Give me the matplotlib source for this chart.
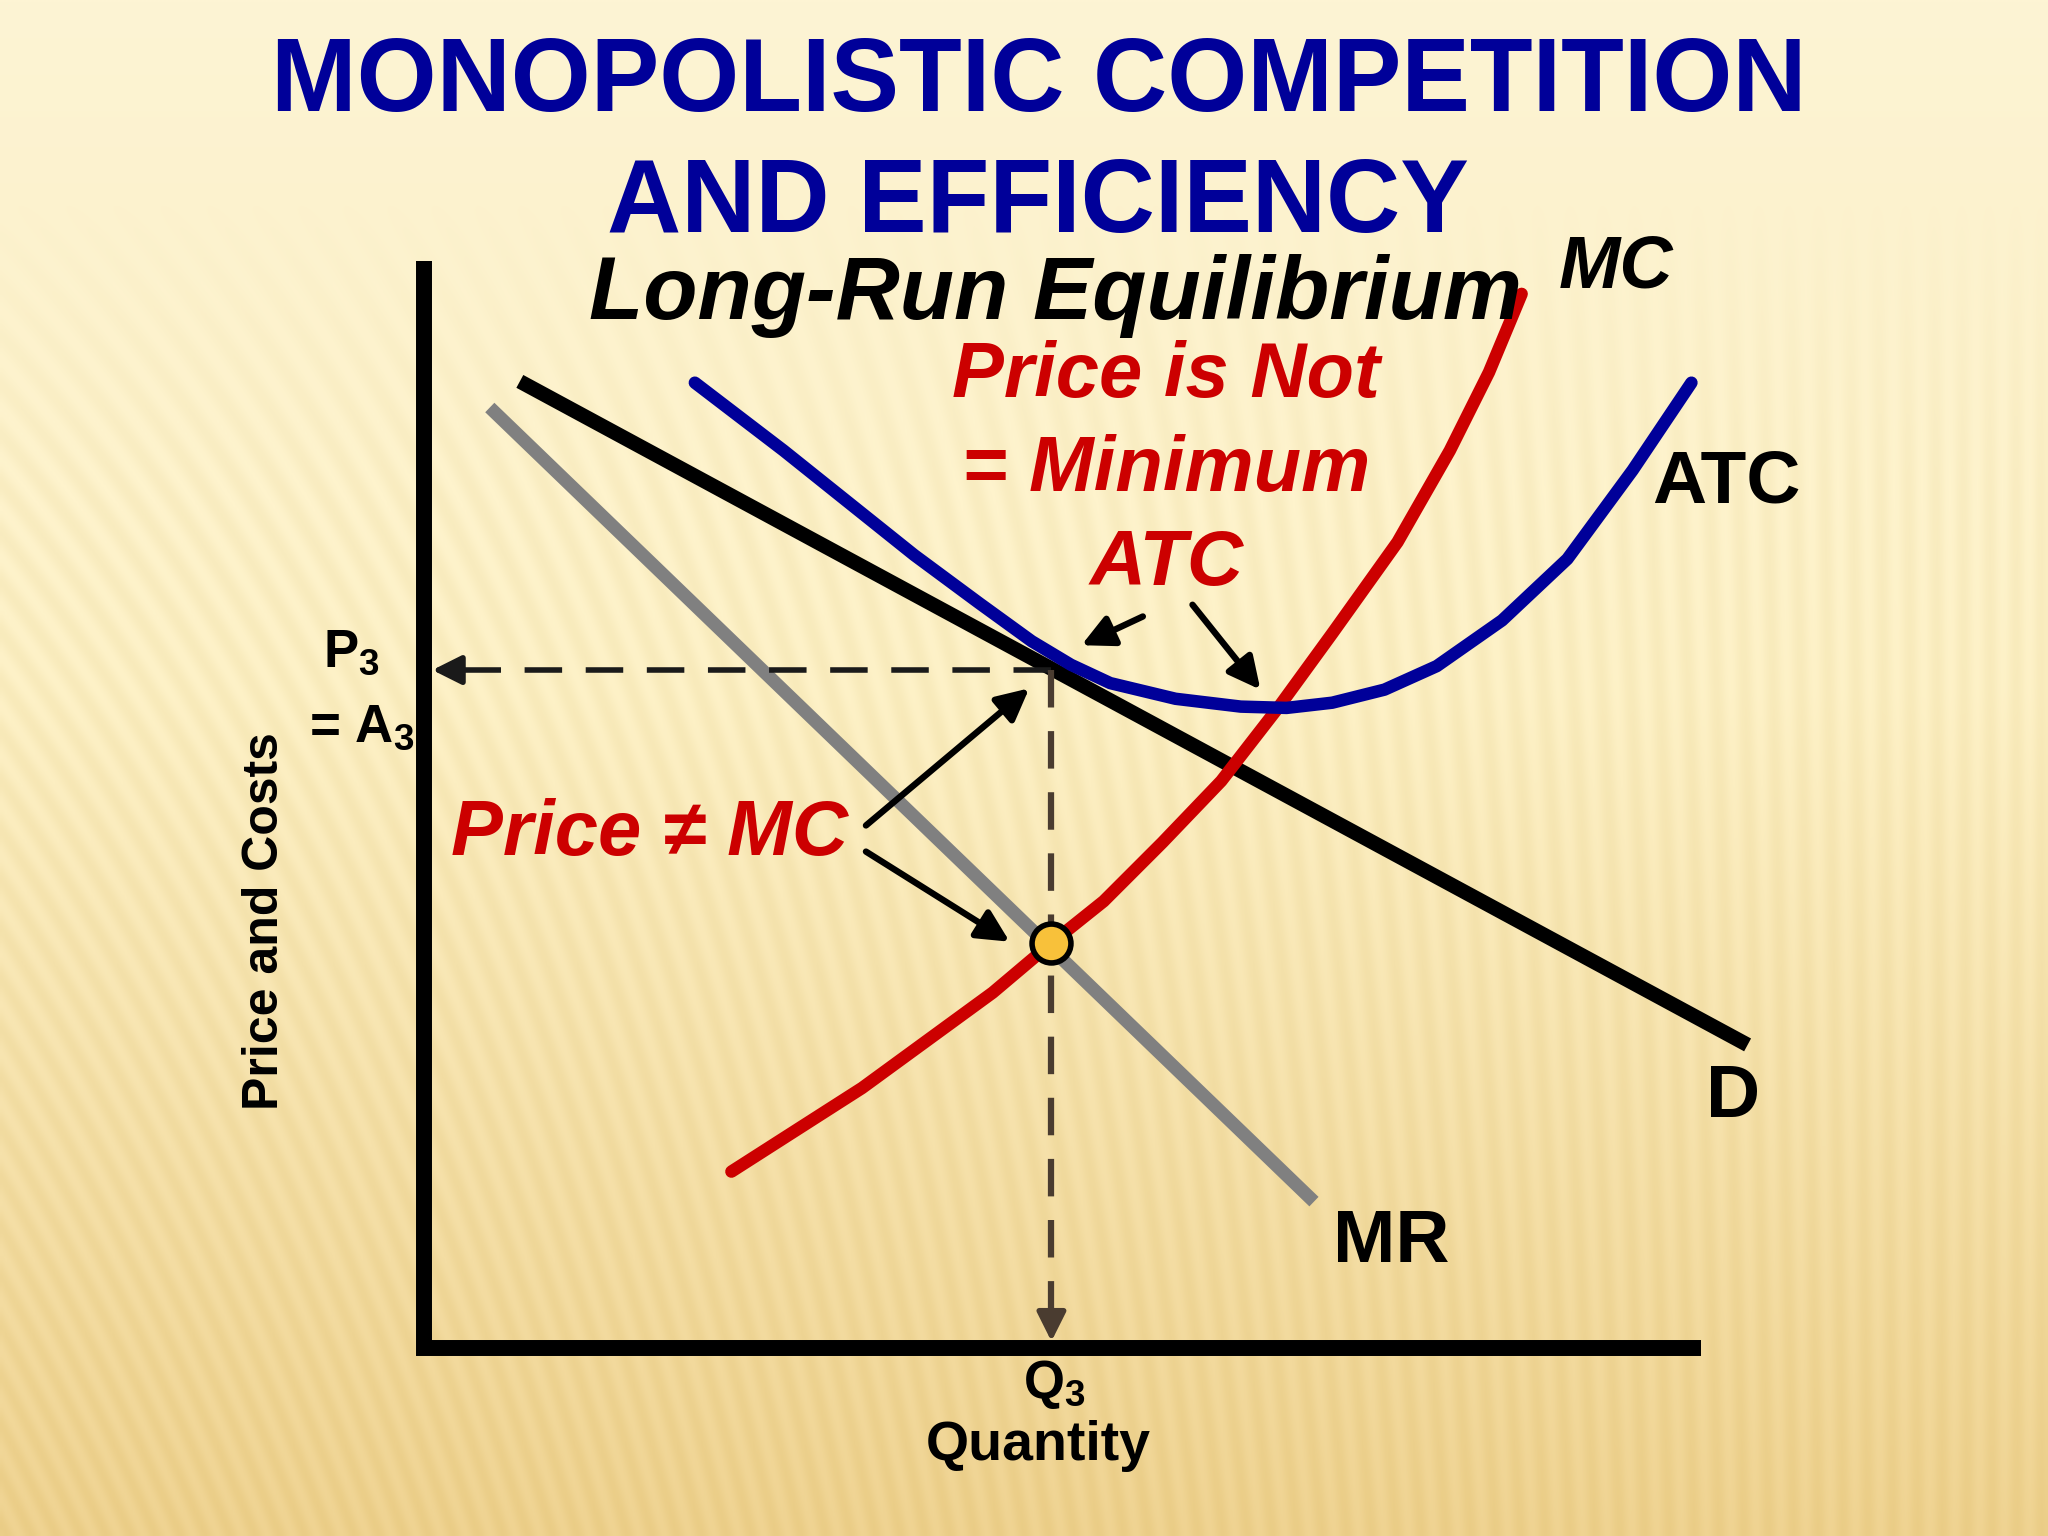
import numpy as np
import matplotlib
matplotlib.use("Agg")
import matplotlib.pyplot as plt

plt.rcParams['font.family'] = ['Liberation Sans', 'DejaVu Sans']
plt.rcParams['mathtext.fontset'] = 'custom'
plt.rcParams['mathtext.rm'] = 'Liberation Sans:bold'
plt.rcParams['mathtext.bf'] = 'Liberation Sans:bold'
plt.rcParams['mathtext.it'] = 'Liberation Sans:bold:italic'
plt.rcParams['lines.scale_dashes'] = False

# --- data (quantity, price) ---
demand_q = [0.73, 10.13]
demand_p = [7.40, 2.32]

mr_q = [0.50, 6.81]
mr_p = [7.20, 1.12]

atc_q = [2.07, 2.75, 3.25, 3.75, 4.25, 4.65, 4.95, 5.25, 5.75, 6.25, 6.60,
         6.95, 7.35, 7.75, 8.25, 8.75, 9.25, 9.70]
atc_p = [7.39, 6.87, 6.47, 6.07, 5.70, 5.41, 5.23, 5.09, 4.97, 4.91, 4.90,
         4.94, 5.04, 5.22, 5.57, 6.04, 6.72, 7.39]

mc_q = [2.35, 3.35, 4.35, 4.80, 5.20, 5.65, 6.10, 6.55, 6.95, 7.45, 7.85, 8.15, 8.40]
mc_p = [1.35, 1.99, 2.72, 3.10, 3.42, 3.87, 4.34, 4.92, 5.47, 6.17, 6.87, 7.47, 8.07]

q3 = 4.80
p3 = 5.19
mr_eq_mc = 3.10

axis_top = 8.32
axis_right = 9.77

# --- background ---
H, W = 384, 512
yy, xx = np.mgrid[0:H, 0:W]
yf = yy / (H - 1)
xf = xx / (W - 1)
top = np.array([253, 244, 212])
mid = np.array([251, 238, 193])
bot = np.array([237, 208, 140])
t1 = np.clip(yf / 0.45, 0, 1)[..., None]
t2 = np.clip((yf - 0.45) / 0.55, 0, 1)[..., None]
base = top * (1 - t1) + mid * t1
base = base * (1 - t2) + bot * t2
tilt = 0.5 * (1 - xf) ** 1.5
phase = (xx + tilt * (H - yy)) * 2 * np.pi / 6.2
amp = np.clip((yf - 0.12) / 0.2, 0, 1) * 4.5
stripes = amp * np.sin(phase)
img = np.clip(base - stripes[..., None] * np.array([0.6, 0.8, 1.4]), 0, 255) / 255

fig = plt.figure(figsize=(20.48, 15.36), dpi=100)
bg = fig.add_axes([0, 0, 1, 1])
bg.imshow(img, extent=[0, 1, 0, 1], aspect='auto', interpolation='bilinear')
bg.axis('off')

ax = fig.add_axes([0, 0, 1, 1])
ax.patch.set_alpha(0)
ax.set_xlim(-3.25, 12.43)
ax.set_ylim(-1.44, 10.32)
ax.axis('off')

# axes
ax.plot([0, 0, axis_right], [axis_top, 0, 0], color='black', lw=11.5,
        solid_joinstyle='miter', solid_capstyle='butt', zorder=5)

# curves
ax.plot(demand_q, demand_p, color='black', lw=10.5, solid_capstyle='butt', zorder=2)
ax.plot(mr_q, mr_p, color='#808080', lw=9.5, solid_capstyle='butt', zorder=2)
ax.plot(mc_q, mc_p, color='#cc0000', lw=9.0, solid_capstyle='round',
        solid_joinstyle='round', zorder=3)
ax.plot(atc_q, atc_p, color='#000099', lw=9.0, solid_capstyle='round',
        solid_joinstyle='round', zorder=4)

# dashed guides
ax.plot([q3, 0.22], [p3, p3], color='#1a1a1a', lw=4.0, dashes=(27, 17), zorder=5)
ax.annotate("", xy=(0.06, p3), xytext=(0.30, p3),
            arrowprops=dict(arrowstyle='-|>', color='#1a1a1a', lw=4.0,
                            mutation_scale=44, shrinkA=0, shrinkB=0), zorder=6)
ax.plot([q3, q3], [p3, 0.2], color='#4a3c30', lw=4.5, dashes=(27, 17), zorder=5)
ax.annotate("", xy=(q3, 0.05), xytext=(q3, 0.30),
            arrowprops=dict(arrowstyle='-|>', color='#4a3c30', lw=4.0,
                            mutation_scale=44, shrinkA=0, shrinkB=0), zorder=6)

# equilibrium dot
ax.plot([q3], [mr_eq_mc], 'o', ms=28, mfc='#f8c13a', mec='black', mew=4, zorder=7)

# callout arrows
arrow_kw = dict(arrowstyle='-|>', color='black', lw=4.6, mutation_scale=48,
                shrinkA=0, shrinkB=0)
ax.annotate("", xy=(4.63, 5.05), xytext=(3.38, 4.00), arrowprops=arrow_kw, zorder=6)
ax.annotate("", xy=(4.48, 3.11), xytext=(3.38, 3.80), arrowprops=arrow_kw, zorder=6)
ax.annotate("", xy=(5.03, 5.38), xytext=(5.50, 5.60), arrowprops=arrow_kw, zorder=6)
ax.annotate("", xy=(6.40, 5.04), xytext=(5.88, 5.69), arrowprops=arrow_kw, zorder=6)

# titles
title_kw = dict(ha='center', va='center', color='#000099', fontsize=74, fontweight='bold')
fig.text(795 / 1568, 1 - 65 / 1176, "MONOPOLISTIC COMPETITION", **title_kw)
fig.text(795 / 1568, 1 - 157 / 1176, "AND EFFICIENCY", **title_kw)

ax.text(4.83, 8.05, "Long-Run Equilibrium", ha='center', va='center',
        fontsize=64, fontweight='bold', fontstyle='italic', color='black')

# curve labels
lab = dict(ha='center', va='center', fontweight='bold', color='black')
ax.text(9.12, 8.27, "MC", fontsize=53, fontstyle='italic', **lab)
ax.text(9.97, 6.62, "ATC", fontsize=54, **lab)
ax.text(10.02, 1.92, "D", fontsize=54, **lab)
ax.text(7.40, 0.81, "MR", fontsize=54, **lab)

red = dict(ha='center', va='center', fontweight='bold', fontstyle='italic',
           color='#cc0000', fontsize=56)
ax.text(5.68, 7.44, "Price is Not", **red)
ax.text(5.68, 6.72, "= Minimum", **red)
ax.text(5.68, 6.00, "ATC", **red)
ax.text(1.72, 3.93, "Price \u2260 MC", **red)

# axis labels
small = dict(ha='center', va='center', fontweight='bold', color='black', fontsize=38)
ax.text(-0.56, 5.32, "P$_3$", **small)
ax.text(-0.48, 4.75, "= A$_3$", **small)
ax.text(4.82, -0.28, "Q$_3$", **small)
ax.text(4.70, -0.75, "Quantity", ha='center', va='center', fontweight='bold',
        color='black', fontsize=40)
ax.text(-1.22, 3.27, "Price and Costs", rotation=90, ha='center', va='center',
        fontweight='bold', color='black', fontsize=36)

fig.savefig("out.png", dpi=100)
